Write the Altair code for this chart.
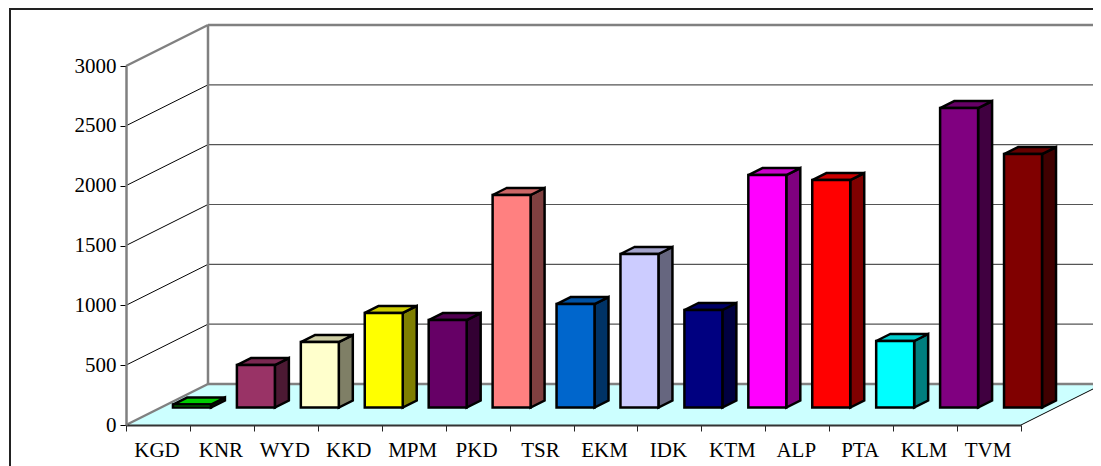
import altair as alt
import pandas as pd

names = ["KGD","KNR","WYD","KKD","MPM","PKD","TSR","EKM","IDK","KTM","ALP","PTA","KLM","TVM"]
values = [25,355,547,790,731,1776,865,1283,815,1943,1901,556,2502,2118]
front = ["#00FF00","#993366","#FFFFCC","#FFFF00","#660066","#FF8080","#0066CC","#CCCCFF","#000080","#FF00FF","#FF0000","#00FFFF","#800080","#800000"]
ticks = [0,500,1000,1500,2000,2500,3000]

# depth of the floor and of a bar, in axis units
DX, DY = 1.2826, 342.6
BX, BY = 0.219, 58.5
BASE_X, BASE_Y = 0.5317, 146
HALF = 0.297
NC = len(names)
XS = alt.Scale(domain=[0, NC], nice=False, zero=False)
YS = alt.Scale(domain=[0, 3000], nice=False, zero=False)
AX = alt.Axis(values=list(range(NC + 1)), labels=False, grid=False, domainColor="#333333", domainWidth=2,
              tickColor="#222222", tickSize=6, tickWidth=1, zindex=1, title=None)
AY = alt.Axis(values=ticks, format="d", grid=False, domainColor="#808080", domainWidth=2.5, tickColor="#000000", tickSize=6,
              tickWidth=1, labelFont="Liberation Serif", labelFontSize=21, labelColor="#000000", labelPadding=4,
              zindex=1, title=None)

def shade(c, f):
    return "#" + "".join(f"{int(int(c[i:i+2],16)*f):02X}" for i in (1,3,5))

fr, side, top = [], [], []
for i, (n, v, c) in enumerate(zip(names, values, front)):
    l = i + 0.5 + BASE_X - HALF
    r = i + 0.5 + BASE_X + HALF
    fr.append(dict(n=n, x=l, x2=r, y=BASE_Y, y2=BASE_Y + v, c=c))
    s = shade(c, 0.5); t = shade(c, 0.8)
    side += [dict(n=n, x=r, y=BASE_Y + v, y2=BASE_Y, c=s),
             dict(n=n, x=r + BX, y=BASE_Y + v + BY, y2=BASE_Y + BY, c=s)]
    top += [dict(n=n, y=BASE_Y + v, x=l, x2=r, c=t),
            dict(n=n, y=BASE_Y + v + BY, x=l + BX, x2=r + BX, c=t)]

def segs(rows):
    out = []
    for k, pts in enumerate(rows):
        for j, (x, y) in enumerate(pts):
            out.append(dict(k=k, j=j, x=x, y=y))
    return pd.DataFrame(out)

def lines(df, color, w):
    return alt.Chart(df).mark_line(color=color, strokeWidth=w, clip=False).encode(
        x=alt.X("x:Q", scale=XS, axis=AX),
        y=alt.Y("y:Q", scale=YS, axis=AY),
        detail="k:N", order="j:Q")

floor = alt.Chart(pd.DataFrame([dict(y=0, x=0, x2=NC), dict(y=DY, x=DX, x2=NC + DX)])).mark_area(
    orient="horizontal", color="#CCFFFF", clip=False).encode(
    y=alt.Y("y:Q", scale=YS, axis=AY),
    x=alt.X("x:Q", scale=XS, axis=AX), x2="x2:Q")

grid_back = lines(segs([[(DX, DY + t), (NC + DX, DY + t)] for t in ticks[1:-1]]), "#555555", 1.2)
grid_diag = lines(segs([[(0, t), (DX, DY + t)] for t in ticks[1:-1]]), "#000000", 1)
heavy = lines(segs([[(0, 0), (DX, DY)], [(DX, DY), (NC + DX, DY)], [(DX, DY), (DX, DY + 3000)],
                    [(0, 3000), (DX, DY + 3000)], [(DX, DY + 3000), (NC + DX, DY + 3000)]]), "#808080", 2.5)
right = lines(segs([[(NC, 0), (NC + DX, DY)]]), "#000000", 1)

side_l = alt.Chart(pd.DataFrame(side)).mark_area(stroke="#000000", strokeWidth=2.5, clip=False).encode(
    x=alt.X("x:Q", scale=XS, axis=AX), y=alt.Y("y:Q", scale=YS, axis=AY, stack=None), y2="y2:Q",
    detail="n:N", fill=alt.Fill("c:N", scale=None))
top_l = alt.Chart(pd.DataFrame(top)).mark_area(orient="horizontal", stroke="#000000", strokeWidth=2.5, clip=False).encode(
    y=alt.Y("y:Q", scale=YS, axis=AY), x=alt.X("x:Q", scale=XS, axis=AX, stack=None), x2="x2:Q",
    detail="n:N", fill=alt.Fill("c:N", scale=None))
front_l = alt.Chart(pd.DataFrame(fr)).mark_rect(stroke="#000000", strokeWidth=2.5, clip=False).encode(
    x=alt.X("x:Q", scale=XS, axis=AX), x2="x2:Q",
    y=alt.Y("y:Q", scale=YS, axis=AY), y2="y2:Q",
    fill=alt.Fill("c:N", scale=None))

labels = alt.Chart(pd.DataFrame(dict(n=names, x=[i + 0.5 for i in range(NC)], y=[0] * NC))).mark_text(
    font="Liberation Serif", fontSize=21, color="#000000", baseline="middle", dy=26, dx=-1, clip=False).encode(
    x=alt.X("x:Q", scale=XS, axis=AX), y=alt.Y("y:Q", scale=YS, axis=AY), text="n:N")

frame_l = alt.Chart(pd.DataFrame(dict(a=[0]))).mark_rule(color="#222222", strokeWidth=2).encode(
    x=alt.value(-116), y=alt.value(-58), y2=alt.value(400))
frame_t = alt.Chart(pd.DataFrame(dict(a=[0]))).mark_rule(color="#222222", strokeWidth=2).encode(
    y=alt.value(-57), x=alt.value(-116), x2=alt.value(967))

chart = alt.layer(floor, grid_back, grid_diag, heavy, right, frame_l, frame_t, side_l, top_l, front_l, labels).properties(
    width=895, height=359,
    autosize=alt.AutoSizeParams(type="none"),
    padding={"left": 118, "top": 58, "right": 72, "bottom": 41},
    background="#FFFFFF",
).configure_view(stroke=None)
chart.save("out.html", embed_options={"renderer": "svg", "actions": False})
